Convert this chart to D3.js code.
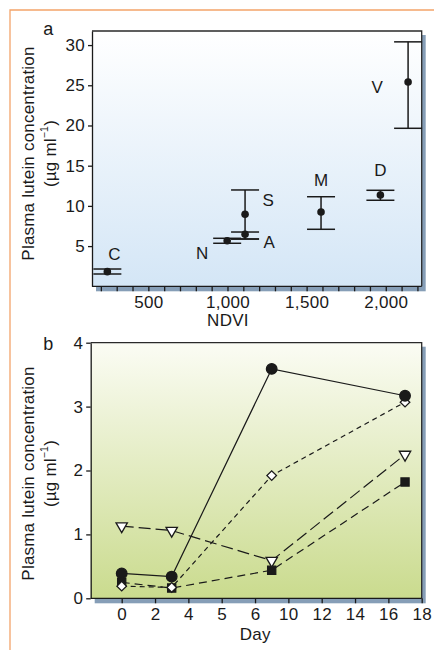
<!DOCTYPE html>
<html>
<head>
<meta charset="utf-8">
<script src="https://cdn.jsdelivr.net/npm/d3@7"></script>
<style>
  html, body { margin: 0; padding: 0; background: #fff; }
  svg { display: block; font-family: "Liberation Sans", Arial, sans-serif; }
  .eje text { font-size: 17px; letter-spacing: 0.3px; fill: #1a1a1a; font-family: "Liberation Sans", Arial, sans-serif; }
  .eje line, .eje path { stroke: #1a1a1a; stroke-width: 1.3; }
</style>
</head>
<body>
<div id="graf"></div>
<script>
// Datos panel a
const sites   = ['C', 'N', 'A', 'S', 'M', 'D', 'V']
const ndvi    = [241, 998, 1111, 1111, 1591, 1966, 2141]
const lutein  = [1.82, 5.67, 6.47, 8.96, 9.24, 11.36, 25.4]
const errLow  = [1.53, 5.35, 5.88, 5.88, 7.09, 10.7, 19.65]
const errHigh = [2.15, 5.97, 6.75, 11.98, 11.14, 11.94, 30.4]
const ndviTicks = [200, 300, 400, 500, 600, 700, 800, 900, 1000, 1100, 1200, 1300, 1400, 1500, 1600, 1700, 1800, 1900, 2000, 2100, 2200]
const luteinTicks = [5, 10, 15, 20, 25, 30]

// Datos panel b
const days = [0, 3, 8, 17]
const dayTicks = [0, 2, 4, 5, 6, 10, 12, 14, 16, 18]
const concTicks = [0, 1, 2, 3, 4]
const circleVals   = [0.39, 0.34, 3.59, 3.17]
const diamondVals  = [0.19, 0.17, 1.92, 3.07]
const triangleVals = [1.13, 1.06, 0.59, 2.25]
const squareVals   = [0.25, 0.16, 0.44, 1.82]

// I. Configuración
const W = 434, H = 650
const svg = d3.select('#graf').append('svg')
  .attr('width', W).attr('height', H)

const defs = svg.append('defs')
function gradiente(id, c0, c1) {
  const lg = defs.append('linearGradient').attr('id', id)
    .attr('x1', 0).attr('y1', 0).attr('x2', 0).attr('y2', 1)
  lg.append('stop').attr('offset', '0%').attr('stop-color', c0)
  lg.append('stop').attr('offset', '100%').attr('stop-color', c1)
}
gradiente('gA', '#ffffff', '#d4e6f6')
gradiente('gB', '#fbfcf4', '#cadb8e')

// marco naranja
svg.append('path')
  .attr('d', `M10,${H} L10,10 L${W},10`)
  .attr('fill', 'none').attr('stroke', '#f3a46a').attr('stroke-width', 1.3)

const sombra = '#869eb7'
const tinta = '#1a1a1a'
const fs = '17px'

function panel(box, fillId) {
  svg.append('rect')
    .attr('x', box.l + 4).attr('y', box.t + 4)
    .attr('width', box.r - box.l).attr('height', box.b - box.t + 1)
    .attr('fill', sombra)
  svg.append('rect')
    .attr('x', box.l).attr('y', box.t)
    .attr('width', box.r - box.l).attr('height', box.b - box.t)
    .attr('fill', `url(#${fillId})`)
  svg.append('path')
    .attr('d', `M${box.l},${box.t} L${box.r},${box.t} L${box.r},${box.b}`)
    .attr('fill', 'none').attr('stroke', '#2a2a2a').attr('stroke-width', 1.3)
}

function texto(x, y, t, size) {
  return svg.append('text').attr('x', x).attr('y', y)
    .attr('text-anchor', 'middle')
    .style('font-size', size || fs).style('letter-spacing', '0.3px').style('fill', tinta)
    .text(t)
}

function tituloY(cx1, cx2, cy) {
  svg.append('text')
    .attr('transform', `translate(${cx1},${cy}) rotate(-90)`)
    .attr('text-anchor', 'middle').attr('dominant-baseline', 'central')
    .style('font-size', fs).style('letter-spacing', '0.2px').style('fill', tinta)
    .text('Plasma lutein concentration')
  const t2 = svg.append('text')
    .attr('transform', `translate(${cx2},${cy}) rotate(-90)`)
    .attr('text-anchor', 'middle').attr('dominant-baseline', 'central')
    .style('font-size', fs).style('letter-spacing', '0.2px').style('fill', tinta)
  t2.append('tspan').text('(\u00b5g ml')
  t2.append('tspan').attr('baseline-shift', 'super').style('font-size', '10.5px').text('\u22121')
  t2.append('tspan').text(')')
}

// II. Panel a
const boxA = { l: 92, r: 421.7, t: 31, b: 286.3 }
panel(boxA, 'gA')

const xA = d3.scaleLinear().domain([144, 2227]).range([boxA.l, boxA.r])
const yA = d3.scaleLinear().domain([0, 31.75]).range([boxA.b, boxA.t])

svg.append('g').attr('class', 'eje')
  .attr('transform', `translate(0,${boxA.b})`)
  .call(d3.axisBottom(xA).tickValues(ndviTicks).tickSize(5).tickSizeOuter(0).tickPadding(5)
    .tickFormat(d => d % 500 === 0 ? d3.format(',')(d) : ''))
  .select('.domain').attr('d', `M${boxA.l},0H${boxA.r}`)

svg.append('g').attr('class', 'eje')
  .attr('transform', `translate(${boxA.l},0)`)
  .call(d3.axisLeft(yA).tickValues(luteinTicks).tickSize(4).tickSizeOuter(0).tickPadding(3))

const puntosA = sites.map((s, i) => ({ s, x: ndvi[i], y: lutein[i], lo: errLow[i], hi: errHigh[i] }))

const gA = svg.append('g')
gA.selectAll('line.v').data(puntosA).enter().append('line')
  .attr('x1', d => xA(d.x)).attr('x2', d => xA(d.x))
  .attr('y1', d => yA(d.lo)).attr('y2', d => yA(d.hi))
  .attr('stroke', tinta).attr('stroke-width', 1.5)
gA.selectAll('line.lo').data(puntosA).enter().append('line')
  .attr('x1', d => xA(d.x) - 14).attr('x2', d => xA(d.x) + 14)
  .attr('y1', d => yA(d.lo)).attr('y2', d => yA(d.lo))
  .attr('stroke', tinta).attr('stroke-width', 1.5)
gA.selectAll('line.hi').data(puntosA).enter().append('line')
  .attr('x1', d => xA(d.x) - 14).attr('x2', d => xA(d.x) + 14)
  .attr('y1', d => yA(d.hi)).attr('y2', d => yA(d.hi))
  .attr('stroke', tinta).attr('stroke-width', 1.5)
gA.selectAll('circle').data(puntosA).enter().append('circle')
  .attr('cx', d => xA(d.x)).attr('cy', d => yA(d.y)).attr('r', 3.8)
  .attr('fill', tinta)

// desplazamiento de cada etiqueta respecto a su punto
const offs = { C: [7, -17], N: [-25, 12.5], A: [24, 8], S: [23, -13.5], M: [0, -32], D: [0, -24], V: [-31, 5] }
gA.selectAll('text').data(puntosA).enter().append('text')
  .attr('x', d => xA(d.x) + offs[d.s][0])
  .attr('y', d => yA(d.y) + offs[d.s][1])
  .attr('text-anchor', 'middle').attr('dominant-baseline', 'central')
  .style('font-size', fs).style('fill', tinta)
  .text(d => d.s)

texto(48.5, 35, 'a', '18px')
texto(228, 326, 'NDVI')
tituloY(28, 50, 153.5)

// III. Panel b
const boxB = { l: 90.7, r: 421.7, t: 342.7, b: 598.3 }
panel(boxB, 'gB')

const paso = d3.scaleLinear().domain([-0.93, 9]).range([boxB.l, boxB.r])
const xB = d3.scaleLinear().domain(dayTicks).range(dayTicks.map((d, i) => paso(i)))
const yB = d3.scaleLinear().domain([0, 4]).range([boxB.b, boxB.t])

svg.append('g').attr('class', 'eje')
  .attr('transform', `translate(0,${boxB.b})`)
  .call(d3.axisBottom(xB).tickValues(dayTicks).tickSize(5).tickSizeOuter(0).tickPadding(5).tickFormat(String))
  .select('.domain').attr('d', `M${boxB.l},0H${boxB.r}`)

svg.append('g').attr('class', 'eje')
  .attr('transform', `translate(${boxB.l},0)`)
  .call(d3.axisLeft(yB).tickValues(concTicks).tickSize(4.5).tickSizeOuter(0).tickPadding(3).tickFormat(d3.format('d')))

const series = [
  { vals: squareVals,   sym: d3.symbolSquare,   size: 66, rot: 0,   fill: tinta, dash: '8,5' },
  { vals: triangleVals, sym: d3.symbolTriangle, size: 56, rot: 180, fill: '#fff', dash: '12,5' },
  { vals: diamondVals,  sym: d3.symbolSquare,   size: 46, rot: 45,  fill: '#fff', dash: '5,4' },
  { vals: circleVals,   sym: d3.symbolCircle,   size: 88, rot: 0,   fill: tinta, dash: null }
]

const linea = d3.line().x((d, i) => xB(days[i])).y(d => yB(d))

series.forEach(s => {
  svg.append('path')
    .attr('d', linea(s.vals))
    .attr('fill', 'none').attr('stroke', tinta).attr('stroke-width', 1.2)
    .attr('stroke-dasharray', s.dash)
})

series.forEach(s => {
  svg.append('g').selectAll('path').data(s.vals).enter().append('path')
    .attr('d', d3.symbol().type(s.sym).size(s.size))
    .attr('transform', (d, i) => `translate(${xB(days[i])},${yB(d)}) rotate(${s.rot})`)
    .attr('fill', s.fill).attr('stroke', tinta).attr('stroke-width', 1.3)
})

texto(48.3, 350, 'b', '18px')
texto(255.3, 640, 'Day')
tituloY(28, 50, 473.5)
</script>
</body>
</html>
